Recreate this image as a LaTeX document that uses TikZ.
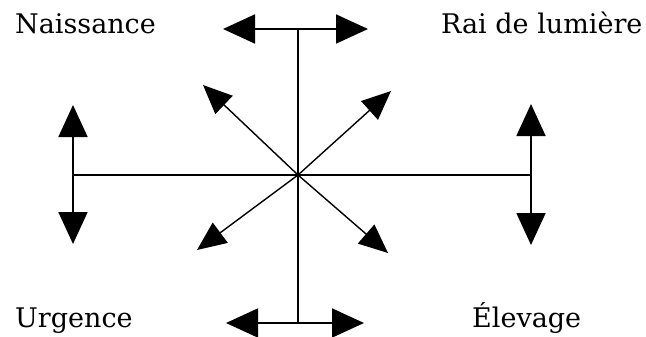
\documentclass[tikz,border=0pt]{standalone}
\usepackage{fontspec}
\setmainfont{DejaVu Serif}
\usetikzlibrary{arrows.meta}
\begin{document}
\begin{tikzpicture}[x=1pt,y=-1pt,
  mainline/.style={line width=1.8pt},
  bigarr/.style={mainline,{Triangle[length=32pt,width=29pt]}-{Triangle[length=32pt,width=29pt]}},
  diagarr/.style={line width=1.4pt,-{Triangle[length=29pt,width=25pt]}},
  lbl/.style={anchor=base west,inner sep=0pt,font=\fontsize{27}{29}\selectfont}]
\useasboundingbox (0,0) rectangle (646,337);
\coordinate (c) at (298,175);
\coordinate (top) at (298,29);
\coordinate (bot) at (298,322);
\coordinate (hl) at (73,175);
\coordinate (hr) at (530,175);
\coordinate (tl) at (223,29);
\coordinate (tr) at (368,29);
\coordinate (bl) at (226,323);
\coordinate (br) at (364,323);
\coordinate (lt) at (73,105);
\coordinate (lb) at (73,244);
\coordinate (rt) at (531,104);
\coordinate (rb) at (531,245);
\coordinate (dul) at (203,85);
\coordinate (dur) at (391,91);
\coordinate (dll) at (197,250);
\coordinate (dlr) at (388,253);
\draw[mainline] (top) -- (bot);
\draw[mainline] (hl) -- (hr);
\draw[bigarr] (tl) -- (tr);
\draw[bigarr] (bl) -- (br);
\draw[bigarr] (lt) -- (lb);
\draw[bigarr] (rt) -- (rb);
\draw[diagarr] (c) -- (dul);
\draw[diagarr] (c) -- (dur);
\draw[diagarr] (c) -- (dll);
\draw[diagarr] (c) -- (dlr);
\node[lbl] (n1) at (15,34) {Naissance};
\node[lbl] (n2) at (441,34) {Rai de lumière};
\node[lbl] (n3) at (15,327) {Urgence};
\node[lbl] (n4) at (472,327) {Élevage};
\end{tikzpicture}
\end{document}
